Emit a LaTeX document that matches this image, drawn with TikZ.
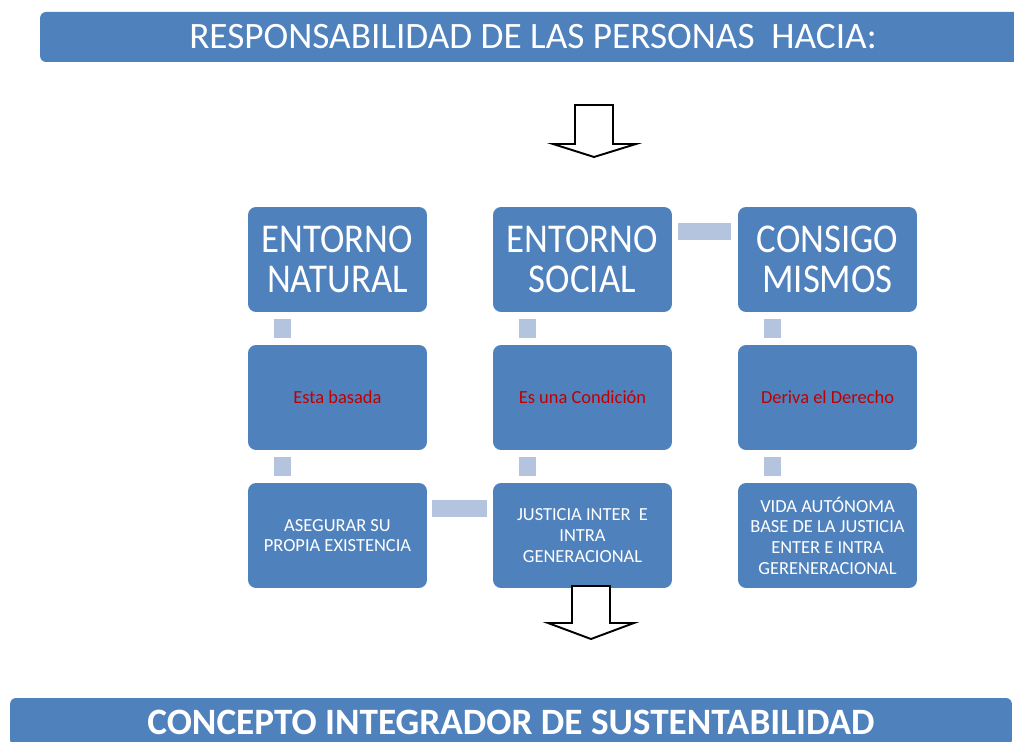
\documentclass[tikz,border=0pt]{standalone}
\usepackage{fontspec}
\setmainfont{Carlito}
\newfontfamily\narrowfont{Carlito}[FakeStretch=0.9]
\usetikzlibrary{calc}
\definecolor{boxblue}{RGB}{79,129,189}
\definecolor{linkblue}{RGB}{180,196,222}
\definecolor{darkred}{RGB}{192,0,0}
\begin{document}
\begin{tikzpicture}[x=0.02cm,y=-0.02cm,
        box/.style={fill=boxblue,rounded corners=0.16cm,minimum width=3.58cm,minimum height=2.1cm,inner sep=0pt,text=white,align=center},
        big/.style={box,font=\narrowfont\fontsize{23.3}{23}\selectfont},
        small/.style={box,font=\fontsize{10.5}{11.8}\selectfont},
        banner/.style={fill=boxblue,rounded corners=0.12cm,inner sep=0pt,text=white},
        link/.style={fill=linkblue},
        blockarrow/.style={draw=black,fill=white,line width=1.1pt,line join=miter}]
    \useasboundingbox (0,0) rectangle (1014,742);
    \clip (0,0) rectangle (1014,742);
    % banners
    \node[banner,minimum width=19.72cm,minimum height=1cm,font=\fontsize{21.2}{24}\selectfont] (head) at (533,37) {RESPONSABILIDAD DE LAS PERSONAS\ \ HACIA:};
    \node[banner,minimum width=20.04cm,minimum height=0.96cm,font=\fontsize{21.2}{24}\selectfont\bfseries] (foot) at (511,722) {CONCEPTO INTEGRADOR DE SUSTENTABILIDAD};
    % first row
    \node[big] (nat) at (337.5,259.5) {ENTORNO\\NATURAL};
    \node[big] (soc) at (582.5,259.5) {ENTORNO\\SOCIAL};
    \node[big] (mis) at (827.5,259.5) {CONSIGO\\MISMOS};
    % second row
    \node[small,text=darkred] (natb) at (337.5,397.5) {Esta basada};
    \node[small,text=darkred] (socb) at (582.5,397.5) {Es una Condición};
    \node[small,text=darkred] (misb) at (827.5,397.5) {Deriva el Derecho};
    % third row
    \node[small] (natc) at (337.5,535.5) {ASEGURAR SU\\PROPIA EXISTENCIA};
    \node[small] (socc) at (582.5,535.5) {JUSTICIA INTER\ \ E\\INTRA\\GENERACIONAL};
    \node[small] (misc) at (827.5,535.5) {VIDA AUTÓNOMA\\BASE DE LA JUSTICIA\\ENTER E INTRA\\GERENERACIONAL};
    % connectors
    \foreach \a/\b in {nat/natb,natb/natc,soc/socb,socb/socc,mis/misb,misb/misc}
        \fill[link] ($(\a.south west)+(26,7)$) rectangle ($(\b.north west)+(43,-7)$);
    \fill[link] ($(soc.north east)+(6,16)$) rectangle ($(mis.north west)+(-7,33)$);
    \fill[link] ($(natc.north east)+(5,17)$) rectangle ($(socc.north west)+(-6,34)$);
    % block arrows
    \coordinate (upper) at (594,105);
    \coordinate (lower) at (591,586);
    \draw[blockarrow] (upper) ++(-19,0) -- ++(0,39) -- ++(-22,0) -- ++(41,13) -- ++(42,-13) -- ++(-23,0) -- ++(0,-39) -- cycle;
    \draw[blockarrow] (lower) ++(-19,0) -- ++(0,37) -- ++(-24,0) -- ++(43,16) -- ++(43,-16) -- ++(-24,0) -- ++(0,-37) -- cycle;
\end{tikzpicture}
\end{document}
